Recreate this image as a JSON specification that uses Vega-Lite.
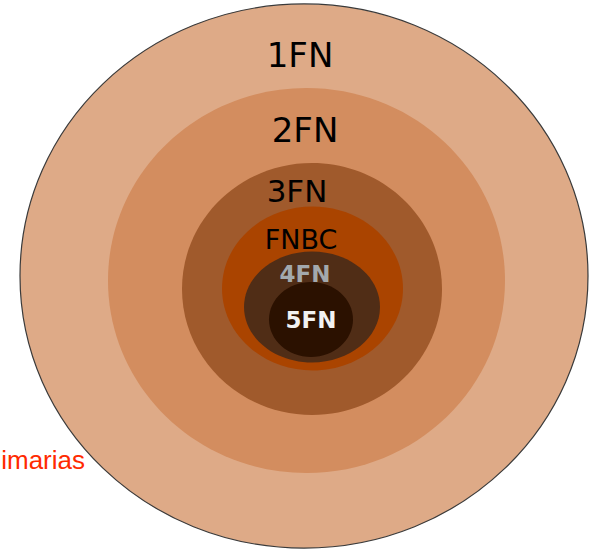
{
  "$schema": "https://vega.github.io/schema/vega-lite/v6.json",
  "width": 596,
  "height": 549,
  "autosize": {"type": "none"},
  "padding": 0,
  "background": "#ffffff",
  "config": {"view": {"stroke": null}},
  "datasets": {
    "rings": [
      {"level": "1FN", "rank": 1, "cx": 304, "cy": 276, "w": 568},
      {"level": "2FN", "rank": 2, "cx": 306.5, "cy": 280.5, "w": 397},
      {"level": "3FN", "rank": 3, "cx": 312, "cy": 289, "w": 260},
      {"level": "FNBC", "rank": 4, "cx": 312.5, "cy": 288.5, "w": 181},
      {"level": "4FN", "rank": 5, "cx": 312, "cy": 307, "w": 136},
      {"level": "5FN", "rank": 6, "cx": 311, "cy": 319.5, "w": 84}
    ],
    "labels": [
      {"label": "1FN", "x": 300, "y": 67},
      {"label": "2FN", "x": 305, "y": 142},
      {"label": "3FN", "x": 297, "y": 202},
      {"label": "FNBC", "x": 301, "y": 249},
      {"label": "4FN", "x": 305, "y": 282},
      {"label": "5FN", "x": 311, "y": 328},
      {"label": "imarias", "x": 85, "y": 469}
    ]
  },
  "layer": [
    {
      "data": {"name": "rings"},
      "mark": {"type": "point", "filled": true, "opacity": 1, "stroke": "#3a3a3a"},
      "encoding": {
        "x": {"field": "cx", "type": "quantitative", "scale": {"domain": [0, 596]}, "axis": null},
        "y": {"field": "cy", "type": "quantitative", "scale": {"domain": [0, 549], "reverse": true}, "axis": null},
        "size": {"field": "w", "type": "quantitative", "scale": {"type": "pow", "exponent": 2, "domain": [0, 600], "range": [0, 360000]}, "legend": null},
        "shape": {
          "field": "level", "type": "nominal", "legend": null,
          "scale": {
            "domain": ["1FN", "2FN", "3FN", "FNBC", "4FN", "5FN"],
            "range": [
              "M-1,0A1,0.958,0,1,1,1,0A1,0.958,0,1,1,-1,0Z",
              "M-1,0A1,0.970,0,1,1,1,0A1,0.970,0,1,1,-1,0Z",
              "M-1,0A1,0.969,0,1,1,1,0A1,0.969,0,1,1,-1,0Z",
              "M-1,0A1,0.906,0,1,1,1,0A1,0.906,0,1,1,-1,0Z",
              "M-1,0A1,0.816,0,1,1,1,0A1,0.816,0,1,1,-1,0Z",
              "M-1,0A1,0.893,0,1,1,1,0A1,0.893,0,1,1,-1,0Z"
            ]
          }
        },
        "color": {
          "field": "level", "type": "nominal", "legend": null,
          "scale": {
            "domain": ["1FN", "2FN", "3FN", "FNBC", "4FN", "5FN"],
            "range": ["#deaa87", "#d38d5f", "#a05a2c", "#aa4400", "#502d16", "#2b1100"]
          }
        },
        "strokeWidth": {"condition": {"test": "datum.level === '1FN'", "value": 1.2}, "value": 0},
        "order": {"field": "rank", "type": "quantitative"}
      }
    },
    {
      "data": {"name": "labels"},
      "transform": [{"filter": "datum.label === '1FN' || datum.label === '2FN'"}],
      "mark": {"type": "text", "font": "DejaVu Sans", "fontSize": 34, "color": "#000000", "align": "center", "baseline": "alphabetic"},
      "encoding": {
        "x": {"field": "x", "type": "quantitative", "scale": {"domain": [0, 596]}, "axis": null},
        "y": {"field": "y", "type": "quantitative", "scale": {"domain": [0, 549], "reverse": true}, "axis": null},
        "text": {"field": "label"}
      }
    },
    {
      "data": {"name": "labels"},
      "transform": [{"filter": "datum.label === '3FN'"}],
      "mark": {"type": "text", "font": "DejaVu Sans", "fontSize": 31, "color": "#000000", "align": "center", "baseline": "alphabetic"},
      "encoding": {
        "x": {"field": "x", "type": "quantitative", "scale": {"domain": [0, 596]}, "axis": null},
        "y": {"field": "y", "type": "quantitative", "scale": {"domain": [0, 549], "reverse": true}, "axis": null},
        "text": {"field": "label"}
      }
    },
    {
      "data": {"name": "labels"},
      "transform": [{"filter": "datum.label === 'FNBC'"}],
      "mark": {"type": "text", "font": "DejaVu Sans", "fontSize": 27, "color": "#000000", "align": "center", "baseline": "alphabetic"},
      "encoding": {
        "x": {"field": "x", "type": "quantitative", "scale": {"domain": [0, 596]}, "axis": null},
        "y": {"field": "y", "type": "quantitative", "scale": {"domain": [0, 549], "reverse": true}, "axis": null},
        "text": {"field": "label"}
      }
    },
    {
      "data": {"name": "labels"},
      "transform": [{"filter": "datum.label === '4FN'"}],
      "mark": {"type": "text", "font": "DejaVu Sans", "fontWeight": "bold", "fontSize": 23, "color": "#a3a9ad", "align": "center", "baseline": "alphabetic"},
      "encoding": {
        "x": {"field": "x", "type": "quantitative", "scale": {"domain": [0, 596]}, "axis": null},
        "y": {"field": "y", "type": "quantitative", "scale": {"domain": [0, 549], "reverse": true}, "axis": null},
        "text": {"field": "label"}
      }
    },
    {
      "data": {"name": "labels"},
      "transform": [{"filter": "datum.label === '5FN'"}],
      "mark": {"type": "text", "font": "DejaVu Sans", "fontWeight": "bold", "fontSize": 23, "color": "#f2f2f2", "align": "center", "baseline": "alphabetic"},
      "encoding": {
        "x": {"field": "x", "type": "quantitative", "scale": {"domain": [0, 596]}, "axis": null},
        "y": {"field": "y", "type": "quantitative", "scale": {"domain": [0, 549], "reverse": true}, "axis": null},
        "text": {"field": "label"}
      }
    },
    {
      "data": {"name": "labels"},
      "transform": [{"filter": "datum.label === 'imarias'"}],
      "mark": {"type": "text", "font": "Liberation Sans", "fontSize": 26, "color": "#ff2a00", "align": "right", "baseline": "alphabetic"},
      "encoding": {
        "x": {"field": "x", "type": "quantitative", "scale": {"domain": [0, 596]}, "axis": null},
        "y": {"field": "y", "type": "quantitative", "scale": {"domain": [0, 549], "reverse": true}, "axis": null},
        "text": {"field": "label"}
      }
    }
  ]
}
